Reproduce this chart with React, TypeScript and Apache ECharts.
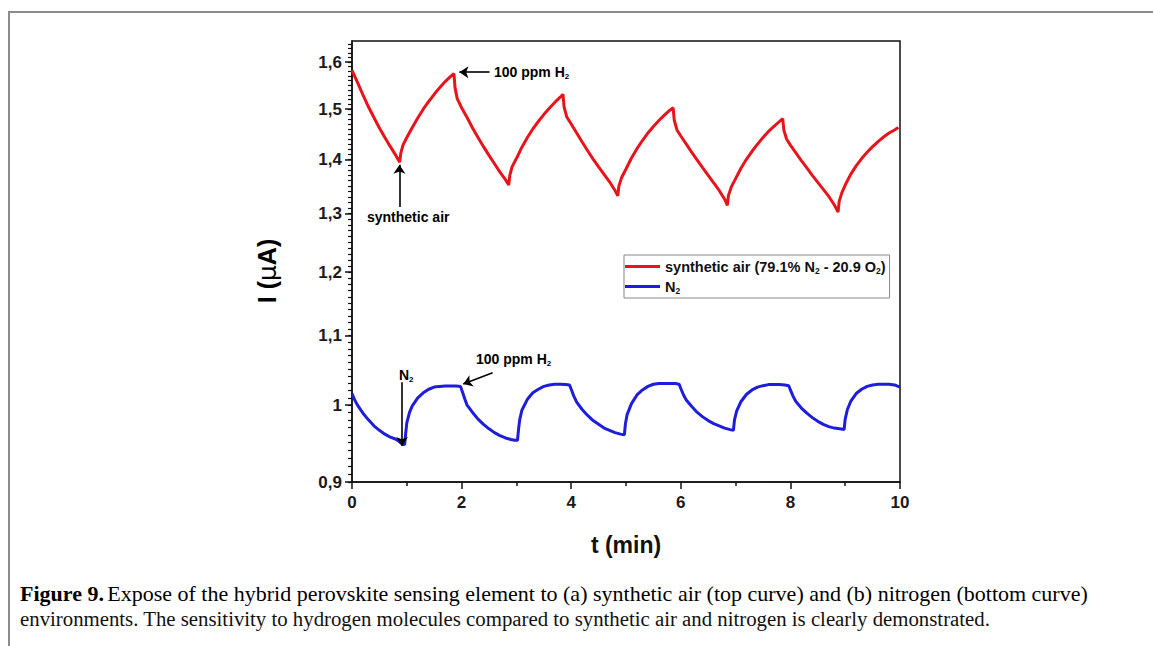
import React, { useEffect, useRef } from 'react';
import * as echarts from 'echarts';

// ---- data ----
const redT = [
  0, 0.1, 0.2, 0.3, 0.4, 0.5, 0.6, 0.7, 0.8, 0.87,
  0.89, 0.93, 1.0, 1.1, 1.2, 1.3, 1.4, 1.5, 1.6, 1.7, 1.8, 1.86,
  1.88, 1.92, 2.0, 2.1, 2.2, 2.3, 2.4, 2.5, 2.6, 2.7, 2.8, 2.86,
  2.88, 2.92, 3.0, 3.1, 3.2, 3.3, 3.4, 3.5, 3.6, 3.7, 3.8, 3.85,
  3.87, 3.92, 4.0, 4.1, 4.2, 4.3, 4.4, 4.5, 4.6, 4.7, 4.8, 4.85,
  4.87, 4.92, 5.0, 5.1, 5.2, 5.3, 5.4, 5.5, 5.6, 5.7, 5.8, 5.86,
  5.88, 5.93, 6.0, 6.1, 6.2, 6.3, 6.4, 6.5, 6.6, 6.7, 6.8, 6.85,
  6.87, 6.92, 7.0, 7.1, 7.2, 7.3, 7.4, 7.5, 7.6, 7.7, 7.8, 7.86,
  7.88, 7.93, 8.0, 8.1, 8.2, 8.3, 8.4, 8.5, 8.6, 8.7, 8.8, 8.87,
  8.89, 8.94, 9.0, 9.1, 9.2, 9.3, 9.4, 9.5, 9.6, 9.7, 9.8, 9.9, 9.97,
];
const redI = [
  1.582, 1.556, 1.530, 1.505, 1.483, 1.462, 1.443, 1.425, 1.408, 1.395,
  1.412, 1.428, 1.443, 1.463, 1.482, 1.500, 1.516, 1.531, 1.545, 1.558, 1.569, 1.575,
  1.545, 1.522, 1.503, 1.483, 1.462, 1.443, 1.425, 1.408, 1.392, 1.376, 1.362, 1.352,
  1.370, 1.386, 1.402, 1.424, 1.443, 1.460, 1.475, 1.489, 1.502, 1.514, 1.525, 1.531,
  1.505, 1.484, 1.470, 1.452, 1.434, 1.417, 1.401, 1.386, 1.372, 1.358, 1.342, 1.332,
  1.350, 1.366, 1.382, 1.403, 1.421, 1.437, 1.452, 1.465, 1.477, 1.488, 1.498, 1.503,
  1.478, 1.458, 1.446, 1.430, 1.414, 1.399, 1.384, 1.370, 1.356, 1.342, 1.326, 1.315,
  1.333, 1.348, 1.364, 1.384, 1.401, 1.416, 1.430, 1.443, 1.455, 1.465, 1.475, 1.481,
  1.458, 1.440, 1.428, 1.413, 1.398, 1.384, 1.370, 1.357, 1.344, 1.331, 1.316, 1.303,
  1.322, 1.338, 1.352, 1.372, 1.388, 1.402, 1.414, 1.425, 1.435, 1.444, 1.452, 1.458, 1.463,
];
const blueT = [
  0, 0.05, 0.1, 0.2, 0.3, 0.4, 0.5, 0.6, 0.7, 0.78, 0.85, 0.9, 0.96,
  0.98, 1.0, 1.05, 1.1, 1.2, 1.3, 1.4, 1.5, 1.6, 1.7, 1.8, 1.9, 1.98,
  2.02, 2.06, 2.1, 2.2, 2.3, 2.4, 2.5, 2.6, 2.7, 2.8, 2.9, 2.97, 3.02,
  3.04, 3.06, 3.1, 3.2, 3.3, 3.4, 3.5, 3.6, 3.7, 3.8, 3.9, 3.97,
  4.0, 4.05, 4.1, 4.2, 4.3, 4.4, 4.5, 4.6, 4.7, 4.8, 4.9, 4.97,
  4.99, 5.02, 5.1, 5.2, 5.3, 5.4, 5.5, 5.6, 5.7, 5.8, 5.9, 5.97,
  6.0, 6.05, 6.1, 6.2, 6.3, 6.4, 6.5, 6.6, 6.7, 6.8, 6.9, 6.96,
  6.98, 7.02, 7.1, 7.2, 7.3, 7.4, 7.5, 7.6, 7.7, 7.8, 7.9, 7.97,
  8.0, 8.05, 8.1, 8.2, 8.3, 8.4, 8.5, 8.6, 8.7, 8.8, 8.9, 8.98,
  9.0, 9.04, 9.1, 9.2, 9.3, 9.4, 9.5, 9.6, 9.7, 9.8, 9.9, 10,
];
const blueI = [
  1.016, 1.007, 1.0, 0.989, 0.98, 0.972, 0.966, 0.961, 0.957, 0.955, 0.952, 0.949, 0.947,
  0.962, 0.976, 0.99, 0.999, 1.01, 1.017, 1.022, 1.025, 1.026, 1.0265, 1.0265, 1.0265, 1.026,
  1.017, 1.008, 1.0, 0.99, 0.981, 0.974, 0.968, 0.963, 0.959, 0.956, 0.954, 0.953, 0.953,
  0.968, 0.98, 0.993, 1.008, 1.017, 1.022, 1.026, 1.028, 1.029, 1.029, 1.0285, 1.028,
  1.022, 1.012, 1.004, 0.994, 0.986, 0.979, 0.974, 0.969, 0.966, 0.963, 0.961, 0.96,
  0.975, 0.987, 1.002, 1.014, 1.021, 1.026, 1.029, 1.03, 1.0302, 1.0302, 1.03, 1.029,
  1.023, 1.014, 1.007, 0.998, 0.99, 0.984, 0.979, 0.975, 0.972, 0.969, 0.967, 0.966,
  0.98, 0.992, 1.005, 1.015, 1.021, 1.025, 1.027, 1.0285, 1.0285, 1.0285, 1.028, 1.027,
  1.021, 1.012, 1.005, 0.996, 0.989, 0.983, 0.978, 0.974, 0.971, 0.969, 0.968, 0.967,
  0.981, 0.994, 1.005, 1.016, 1.022, 1.026, 1.028, 1.029, 1.029, 1.029, 1.028, 1.025,
];
const seriesNames = ['synthetic air (79.1% N2 - 20.9 O2)', 'N2'];
const yMajorTicks = [0.9, 1.0, 1.1, 1.2, 1.3, 1.4, 1.5, 1.6];
const yMinorTicks: number[] = [];
for (let k = 90; k <= 164; k++) yMinorTicks.push(k / 100);
const xRange = [0, 10];
const yRange = [0.9, 1.647];
// annotation arrows: [fromT, fromI, toT, toI]
const arrows = [
  [2.51, 1.578, 1.96, 1.578],
  [0.866, 1.312, 0.866, 1.39],
  [0.913, 1.032, 0.913, 0.9455],
  [2.566, 1.0454, 2.03, 1.0292],
];

const SANS = "'Liberation Sans', Arial, sans-serif";
const SERIF = "'Liberation Serif', 'Times New Roman', serif";

export default function App() {
  const ref = useRef<HTMLDivElement>(null);
  useEffect(() => {
    const chart = echarts.init(ref.current as HTMLDivElement, null, { renderer: 'svg' });
    const annRich = {
      a: { fontFamily: SANS, fontWeight: 'bold', fontSize: 14, color: '#111', lineHeight: 17 },
      s: { fontFamily: SANS, fontWeight: 'bold', fontSize: 8, color: '#111', lineHeight: 8, verticalAlign: 'bottom' },
    };
    const txt = (x: number, y: number, text: string) => ({
      type: 'text',
      x,
      y,
      silent: true,
      style: { text, rich: annRich, verticalAlign: 'middle', textVerticalAlign: 'middle' },
    });
    chart.setOption({
      animation: false,
      backgroundColor: '#fff',
      grid: {
        left: 352,
        top: 41,
        width: 548,
        height: 441,
        show: true,
        borderColor: '#111',
        borderWidth: 1.5,
        backgroundColor: 'transparent',
      },
      legend: {
        orient: 'vertical',
        left: 624,
        top: 255,
        padding: [4, 4, 3, 1],
        itemGap: 4,
        itemWidth: 35,
        itemHeight: 3,
        icon: 'rect',
        borderColor: '#888',
        borderWidth: 1,
        selectedMode: false,
        data: seriesNames,
        formatter: (name: string) =>
          name === seriesNames[1]
            ? '{a|N}{s|2}'
            : '{a|synthetic air (79.1% N}{s|2}{a| - 20.9 O}{s|2}{a|)}',
        textStyle: {
          rich: {
            a: { fontFamily: SANS, fontWeight: 'bold', fontSize: 14.5, color: '#111', lineHeight: 17 },
            s: { fontFamily: SANS, fontWeight: 'bold', fontSize: 8.5, color: '#111', lineHeight: 8, verticalAlign: 'bottom' },
          },
        },
      },
      xAxis: {
        type: 'value',
        min: xRange[0],
        max: xRange[1],
        interval: 2,
        axisLine: { show: true, lineStyle: { color: '#111', width: 1.5 } },
        axisTick: { show: true, length: 7, lineStyle: { color: '#111', width: 1.5 } },
        minorTick: { show: true, splitNumber: 2, length: 4, lineStyle: { color: '#111', width: 1.5 } },
        splitLine: { show: false },
        axisLabel: { fontFamily: SANS, fontWeight: 'bold', fontSize: 17, color: '#1a1a1a', margin: 12 },
      },
      yAxis: [
        {
          type: 'log',
          logBase: 10,
          min: yRange[0],
          max: yRange[1],
          axisLine: { show: true, lineStyle: { color: '#111', width: 1.5 } },
          axisTick: { show: true, length: 7, customValues: yMajorTicks, lineStyle: { color: '#111', width: 1.5 } },
          splitLine: { show: false },
          axisLabel: {
            customValues: yMajorTicks,
            fontFamily: SANS,
            fontWeight: 'bold',
            fontSize: 17,
            color: '#1a1a1a',
            margin: 10,
            formatter: (v: number) => {
              const r = Math.round(v * 10) / 10;
              return r === 1 ? '1' : r.toFixed(1).replace('.', ',');
            },
          },
        },
        {
          type: 'log',
          logBase: 10,
          min: yRange[0],
          max: yRange[1],
          position: 'left',
          axisLine: { show: false },
          axisTick: { show: true, length: 4, customValues: yMinorTicks, lineStyle: { color: '#111', width: 1.2 } },
          axisLabel: { show: false },
          splitLine: { show: false },
        },
      ],
      series: [
        {
          name: seriesNames[0],
          type: 'line',
          data: redT.map((t, i) => [t, redI[i]]),
          showSymbol: false,
          symbol: 'none',
          silent: true,
          color: '#e8141b',
          lineStyle: { color: '#e8141b', width: 3 },
          markLine: {
            silent: true,
            symbol: ['none', 'arrow'],
            symbolSize: 9,
            lineStyle: { color: '#000', width: 1.6, type: 'solid' },
            label: { show: false },
            emphasis: { disabled: true },
            data: arrows.map((a) => [
              { coord: [a[0], a[1]] },
              { coord: [a[2], a[3]] },
            ]),
          },
        },
        {
          name: seriesNames[1],
          type: 'line',
          data: blueT.map((t, i) => [t, blueI[i]]),
          showSymbol: false,
          symbol: 'none',
          silent: true,
          color: '#1d1ddb',
          lineStyle: { color: '#1d1ddb', width: 3 },
        },
      ],
      graphic: [
        {
          type: 'polyline',
          silent: true,
          shape: { points: [[9, 646], [9, 12], [1153, 12]] },
          style: { stroke: '#8c8c8c', lineWidth: 2, fill: 'none' },
        },
        txt(494, 72, '{a|100 ppm H}{s|2}'),
        txt(367, 217, '{a|synthetic air}'),
        txt(399, 375, '{a|N}{s|2}'),
        txt(476, 359, '{a|100 ppm H}{s|2}'),
        {
          type: 'text',
          x: 626,
          y: 545,
          silent: true,
          style: {
            text: 't (min)',
            fontFamily: SANS,
            fontWeight: 'bold',
            fontSize: 23,
            fill: '#111',
            align: 'center',
            verticalAlign: 'middle',
            textAlign: 'center',
            textVerticalAlign: 'middle',
          },
        },
        {
          type: 'text',
          x: 267,
          y: 271,
          rotation: Math.PI / 2,
          silent: true,
          style: {
            text: '{b|I (}{m|\u03bc}{b|A)}',
            align: 'center',
            verticalAlign: 'middle',
            textAlign: 'center',
            textVerticalAlign: 'middle',
            rich: {
              b: { fontFamily: SANS, fontWeight: 'bold', fontSize: 25, color: '#111' },
              m: { fontFamily: "'DejaVu Sans', sans-serif", fontWeight: 'normal', fontSize: 25, color: '#111' },
            },
          },
        },
        {
          type: 'text',
          x: 20,
          y: 593,
          silent: true,
          style: {
            text: '{b|Figure 9.} {r|Expose of the hybrid perovskite sensing element to (a) synthetic air (top curve) and (b) nitrogen (bottom curve)}',
            verticalAlign: 'middle',
            textVerticalAlign: 'middle',
            rich: {
              b: { fontFamily: SERIF, fontWeight: 'bold', fontSize: 22, color: '#111' },
              r: { fontFamily: SERIF, fontWeight: 'normal', fontSize: 22, color: '#111' },
            },
          },
        },
        {
          type: 'text',
          x: 20,
          y: 618,
          silent: true,
          style: {
            text: 'environments. The sensitivity to hydrogen molecules compared to synthetic air and nitrogen is clearly demonstrated.',
            fontFamily: SERIF,
            fontSize: 20.8,
            fill: '#111',
            verticalAlign: 'middle',
            textVerticalAlign: 'middle',
          },
        },
      ],
    });
    return () => chart.dispose();
  }, []);
  return (
    <div
      ref={ref}
      style={{ position: 'fixed', left: 0, top: 0, width: 1153, height: 646, background: '#fff' }}
    />
  );
}
